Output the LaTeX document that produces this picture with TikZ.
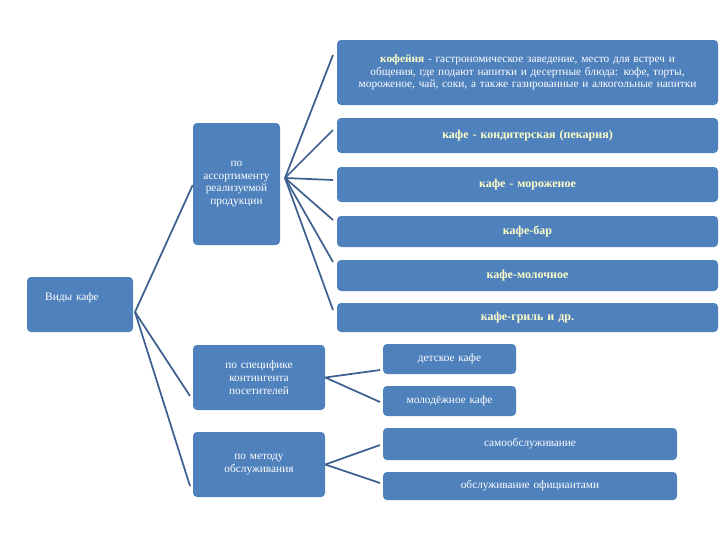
\documentclass[tikz,border=0pt]{standalone}
\usepackage{fontspec}
\setmainfont{Liberation Serif}
\begin{document}
\begin{tikzpicture}[x=0.75pt,y=-0.75pt,
  box/.style={draw=none,fill=boxc,rounded corners=3pt,text=white,align=center,inner sep=1pt,font=\fontsize{8.5}{9.5}\selectfont},
  hl/.style={text=yel,font=\fontsize{9}{10}\selectfont\bfseries},
  ln/.style={draw=linec,line width=1.3pt}]
\definecolor{boxc}{HTML}{4F81BD}
\definecolor{linec}{HTML}{3D5F8F}
\definecolor{yel}{HTML}{FFFFC8}
\useasboundingbox (0,0) rectangle (720,540);
\newcommand{\bx}[6]{\node[box,#6,minimum width=#4*0.75pt-#2*0.75pt,minimum height=#5*0.75pt-#3*0.75pt,text width=#4*0.75pt-#2*0.75pt-8pt] (#1) at ({(#2+#4)/2},{(#3+#5)/2}) }
\bx{k}{337}{40}{718}{105}{}{\textcolor{yel}{\textbf{кофейня}} - гастрономическое заведение, место для встреч и общения, где подают напитки и десертные блюда: кофе, торты, мороженое, чай, соки, а также газированные и алкогольные напитки};
\bx{k1}{337}{118}{718}{153}{hl}{кафе - кондитерская (пекарня)};
\bx{k2}{337}{167}{718}{202}{hl}{кафе - мороженое};
\bx{k3}{337}{216}{718}{247}{hl}{кафе-бар};
\bx{k4}{337}{260}{718}{291}{hl}{кафе-молочное};
\bx{k5}{337}{303}{718}{332}{hl}{кафе-гриль и др.};
\bx{as}{193}{123}{280}{245}{}{по ассортименту реализуемой продукции};
\bx{v}{27}{277}{133}{332}{}{\raisebox{12pt}{Виды кафе}\hspace*{12pt}};
\bx{sp}{193}{345}{325}{410}{}{по специфике контингента посетителей};
\bx{m}{193}{432}{325}{497}{}{по методу обслуживания};
\bx{d}{383}{344}{516}{374}{}{детское кафе};
\bx{y}{383}{386}{516}{416}{}{молодёжное кафе};
\bx{s}{383}{428}{677}{460}{}{самообслуживание};
\bx{o}{383}{472}{677}{500}{}{обслуживание официантами};
\coordinate (a0) at (285,178);
\foreach \t/\yy in {k/55,k1/130,k2/180,k3/220,k4/262,k5/310}
  \draw[ln] (a0) -- (333,\yy);
\coordinate (v0) at (135,312);
\draw[ln] (v0) -- (as.west|-0,185);
\draw[ln] (v0) -- (190,396);
\draw[ln] (v0) -- (190,486);
\draw[ln] (sp.east) -- (380,370);
\draw[ln] (sp.east) -- (380,402);
\draw[ln] (m.east) -- (380,445);
\draw[ln] (m.east) -- (380,483);
\end{tikzpicture}
\end{document}
